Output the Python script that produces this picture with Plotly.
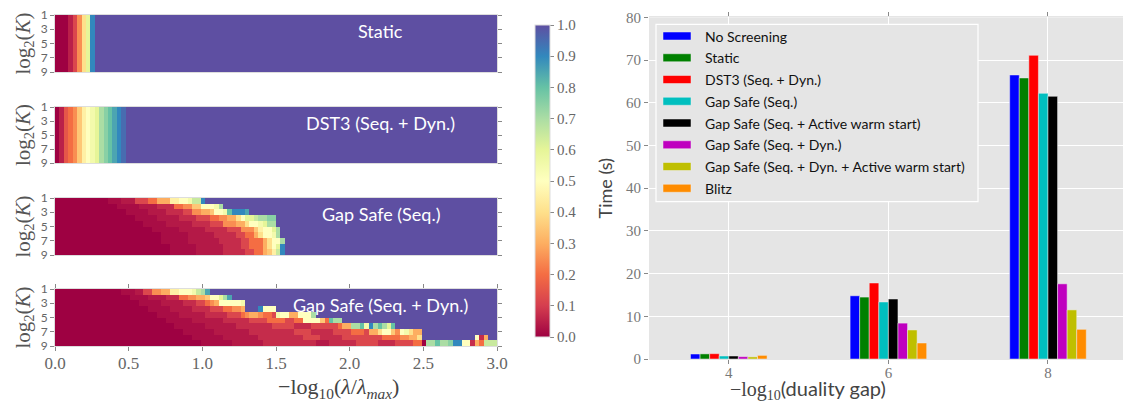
import plotly.graph_objects as go

W, H = 1135, 402
SERIF = "Liberation Serif"
SANS = "Lato"
GREY = "#666666"

# ---------------------------------------------------------------------------
# Heatmaps: one run-length coded string per log2(K) row (top row first).
# token "p*n" = active-set fraction p (in %) repeated over n lambda cells,
# 100 cells spanning -log10(lambda/lambda_max) in [0, 3].
# ---------------------------------------------------------------------------
static_row = "0*3 5*1 12*1 25*1 40*1 60*1 90*1 100*91"       # same for every K
dst3_row = "0*1 5*1 15*1 20*1 25*1 35*1 45*1 50*1 55*1 60*1 70*1 75*1 80*1 85*1 90*1 95*1 100*84"

gap_seq_rows = [
    "0*12 2*3 4*3 12*3 20*2 30*3 45*2 50*2 55*1 65*2 90*1 100*66",
    "0*14 2*5 4*4 7*4 20*2 25*2 35*2 50*3 55*1 70*1 100*62",
    "0*16 2*5 4*4 7*4 12*2 25*2 30*2 35*1 50*2 55*1 80*1 90*3 85*1 100*56",
    "0*18 2*5 4*5 7*4 12*3 20*2 25*2 30*2 40*1 50*1 60*2 65*1 70*2 75*2 100*50",
    "0*20 2*5 4*6 7*4 12*3 25*3 30*2 40*1 50*2 55*1 60*1 70*2 100*50",
    "0*22 2*6 4*6 7*5 12*3 25*3 35*1 45*1 50*2 60*1 70*1 100*49",
    "0*24 2*6 4*6 7*5 12*2 20*2 30*1 40*1 50*2 55*1 70*1 100*49",
    "0*24 2*6 4*7 7*5 12*2 20*3 30*1 40*1 50*2 70*1 100*48",
    "0*26 2*6 4*6 7*4 12*2 20*3 30*1 40*1 50*1 60*1 90*1 100*48",
    "0*26 2*6 4*6 7*5 12*2 20*2 30*1 35*1 45*1 65*1 90*1 100*48",
]

gap_dyn_rows = [
    "0*15 2*3 4*2 12*2 25*2 30*2 45*2 50*3 55*1 65*1 70*1 85*1 100*65",
    "0*17 2*4 4*4 7*3 20*2 25*2 30*2 35*1 50*2 60*1 70*1 85*1 100*60",
    "0*19 2*5 4*5 7*3 12*2 20*1 25*1 30*1 50*5 55*1 100*57",
    "0*21 2*5 4*5 7*4 12*3 20*2 25*2 30*1 100*3 90*1 50*3 100*50",
    "0*23 2*5 4*6 7*5 12*3 20*1 25*1 30*2 25*1 20*2 12*1 55*1 50*2 30*2 50*3 70*1 100*41",
    "0*25 2*6 4*7 7*6 12*4 20*4 12*2 20*2 50*4 35*1 20*1 80*1 70*2 100*35",
    "0*27 2*7 4*7 7*8 12*5 7*4 12*6 20*1 30*2 70*2 80*1 55*1 90*1 70*1 80*1 70*1 60*1 80*1 100*23",
    "0*29 2*7 4*8 7*10 12*4 7*5 12*4 20*3 12*1 30*2 40*1 50*2 35*1 25*1 50*1 55*1 40*1 30*2 100*17",
    "0*31 2*7 4*8 7*10 12*4 7*5 12*6 12*3 20*4 25*2 30*2 40*1 100*12 50*1 7*1 30*1 100*2",
    "0*33 2*7 4*7 7*12 4*3 7*6 12*5 7*4 12*4 20*2 0*1 70*2 80*1 70*2 75*1 90*2 50*2 7*1 30*1 20*1 65*3",
]

panel_names = ["Static", "DST3 (Seq. + Dyn.)", "Gap Safe (Seq.)", "Gap Safe (Seq. + Dyn.)"]

# ---------------------------------------------------------------------------
# Bar chart: time (s) per duality gap target
# ---------------------------------------------------------------------------
gap_targets = [4, 6, 8]
methods = [
    "No Screening",
    "Static",
    "DST3 (Seq. + Dyn.)",
    "Gap Safe (Seq.)",
    "Gap Safe (Seq. + Active warm start)",
    "Gap Safe (Seq. + Dyn.)",
    "Gap Safe (Seq. + Dyn. + Active warm start)",
    "Blitz",
]
t_no_screening = [1.17, 14.8, 66.5]
t_static = [1.2, 14.5, 65.8]
t_dst3 = [1.25, 17.8, 71.1]
t_gs_seq = [0.7, 13.35, 62.2]
t_gs_seq_aws = [0.7, 14.05, 61.5]
t_gs_dyn = [0.55, 8.4, 17.6]
t_gs_dyn_aws = [0.5, 6.8, 11.5]
t_blitz = [0.85, 3.75, 6.95]
bar_colors = ["#0000ff", "#008000", "#ff0000", "#00bfbf", "#000000", "#bf00bf", "#bfbf00", "#ff8c00"]

spectral = ["#9e0142", "#d53e4f", "#f46d43", "#fdae61", "#fee08b", "#ffffbf",
            "#e6f598", "#abdda4", "#66c2a5", "#3288bd", "#5e4fa2"]


def decode(row):
    vals = []
    for tok in row.split():
        p, n = tok.split("*")
        vals += [float(p) / 100] * int(n)
    return vals[:100]


def px(x):
    return x / W


def py(y):
    return 1 - y / H


panel_z = [
    [decode(static_row)] * 10,
    [decode(dst3_row)] * 10,
    [decode(r) for r in gap_seq_rows],
    [decode(r) for r in gap_dyn_rows],
]
panel_px = [(15, 72), (107, 163), (198, 255), (289, 346)]

fig = go.Figure()
annotations = []
layout_axes = {}

for i, z in enumerate(panel_z):
    n = i + 1
    sfx = "" if n == 1 else str(n)
    fig.add_trace(go.Heatmap(
        z=z, x0=0.015, dx=0.03, y0=1.4, dy=0.8,
        coloraxis="coloraxis", xaxis="x" + sfx, yaxis="y" + sfx, hoverinfo="skip",
    ))
    last = n == 4
    top, bot = panel_px[i]
    layout_axes["xaxis" + sfx] = dict(
        domain=[px(55), px(497)], range=[0, 3], anchor="y" + sfx, automargin=False,
        tickvals=[0, 0.5, 1.0, 1.5, 2.0, 2.5, 3.0], tickformat=".1f",
        showticklabels=last, ticks="outside" if last else "", ticklen=4,
        ticklabelstandoff=-2,
        tickcolor="#888", mirror="ticks" if last else True,
        showline=True, linecolor="#dddddd", linewidth=1,
        showgrid=False, zeroline=False,
        tickfont=dict(family=SERIF, size=17, color=GREY),
    )
    layout_axes["yaxis" + sfx] = dict(
        domain=[py(bot), py(top)], range=[9, 1], anchor="x" + sfx, automargin=False,
        tickvals=[1, 3, 5, 7, 9], ticks="outside", ticklen=4, tickcolor="#888",
        mirror="ticks", showline=True, linecolor="#dddddd", linewidth=1,
        showgrid=False, zeroline=False,
        tickfont=dict(family=SANS, size=12, color=GREY),
        title=dict(text="log<sub>2</sub>(<i>K</i>)",
                   font=dict(family=SERIF, size=21, color="#555"), standoff=4),
    )
    annotations.append(dict(
        x=2.21, y=3.3, xref="x" + sfx, yref="y" + sfx, text=panel_names[i],
        showarrow=False, font=dict(family=SANS, size=18, color="white"),
    ))

# x titles placed directly (zero page margins leave no room for standoff)
annotations.append(dict(
    x=px(276), y=py(388), xref="paper", yref="paper", showarrow=False,
    text="\u2212log<sub>10</sub>(<i>\u03bb</i>/<i>\u03bb</i><sub><i>max</i></sub>)",
    font=dict(family=SERIF, size=22, color="#444"), yanchor="middle",
))
annotations.append(dict(
    x=px(888), y=py(389), xref="paper", yref="paper", showarrow=False,
    text="\u2212log<sub>10</sub><span style='font-family:Lato'>(duality gap)</span>",
    font=dict(family=SERIF, size=20, color="#444"), yanchor="middle",
))

# grouped bars
series = [t_no_screening, t_static, t_dst3, t_gs_seq, t_gs_seq_aws, t_gs_dyn, t_gs_dyn_aws, t_blitz]
for name, vals, col in zip(methods, series, bar_colors):
    fig.add_trace(go.Bar(
        x=gap_targets, y=vals, name=name, marker_color=col,
        marker_line=dict(color="#eeeeee", width=0.5),
        xaxis="x5", yaxis="y5", showlegend=False, hoverinfo="skip",
    ))

layout_axes["xaxis5"] = dict(
    domain=[px(649), px(1123)], range=[3, 8.94], anchor="y5", automargin=False,
    tickvals=gap_targets, ticks="outside", ticklen=4, tickcolor="#888",
    ticklabelstandoff=-4,
    mirror="ticks", showline=True, linecolor="#e5e5e5", linewidth=1,
    showgrid=True, gridcolor="white", gridwidth=1,
    zeroline=False, tickfont=dict(family=SERIF, size=15, color="#777"),
)
layout_axes["yaxis5"] = dict(
    domain=[py(359), py(17.3)], range=[0, 80], anchor="x5", dtick=10, automargin=False,
    ticks="outside", ticklen=4, tickcolor="#888", showline=False,
    showgrid=True, gridcolor="white", gridwidth=1, zeroline=False,
    tickfont=dict(family=SERIF, size=15, color="#777"),
    title=dict(text="Time (s)", font=dict(family=SANS, size=18, color="#444"), standoff=8),
)

# legend box (drawn by hand to get matplotlib-like wide patches)
shapes = [dict(type="rect", xref="paper", yref="paper",
               x0=px(656), x1=px(978), y0=py(201.7), y1=py(24.3),
               fillcolor="#e5e5e5", line=dict(color="white", width=1.2), layer="above")]
for k, (name, col) in enumerate(zip(methods, bar_colors)):
    yc = 36 + 21.75 * k
    shapes.append(dict(type="rect", xref="paper", yref="paper",
                       x0=px(663), x1=px(691), y0=py(yc + 4), y1=py(yc - 4),
                       fillcolor=col, line=dict(color="#eeeeee", width=0.5), layer="above"))
    annotations.append(dict(x=px(703), y=py(yc), xref="paper", yref="paper",
                            text=name, showarrow=False, xanchor="left", yanchor="middle",
                            font=dict(family=SANS, size=14, color="#111")))

fig.update_layout(
    width=W, height=H,
    margin=dict(l=0, r=0, t=0, b=0),
    paper_bgcolor="white", plot_bgcolor="#e5e5e5",
    coloraxis=dict(
        colorscale=[[k / 10, c] for k, c in enumerate(spectral)], cmin=0, cmax=1,
        colorbar=dict(
            x=px(525), xanchor="left", y=py(15), yanchor="top",
            len=332 / H, lenmode="fraction", thickness=15,
            tickvals=[k / 10 for k in range(11)], tickformat=".1f",
            ticks="outside", ticklen=4, tickcolor="#888",
            outlinewidth=1, outlinecolor="#dddddd",
            tickfont=dict(family=SERIF, size=15, color=GREY),
        ),
    ),
    annotations=annotations,
    shapes=shapes,
    bargap=0.52, bargroupgap=0, barmode="group",
    **layout_axes,
)

# the page body has a default 8px margin; drop it so the figure sits at (0, 0)
fig.write_html("out.html", config={"displayModeBar": False},
               post_script="document.body.style.margin = '0px';")
